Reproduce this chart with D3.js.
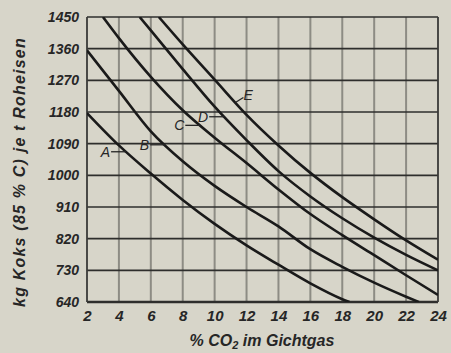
<!DOCTYPE html>
<html><head><meta charset="utf-8">
<script src="https://cdn.jsdelivr.net/npm/d3@7/dist/d3.min.js"></script>
<style>
html,body{margin:0;padding:0;background:#d7d5c9;}
svg{display:block;}
text{font-family:"Liberation Sans",Arial,sans-serif;font-weight:bold;font-style:italic;fill:#262626;}
</style></head>
<body><svg id="c" width="451" height="353"></svg>
<script>
// ---- data ----
const xTicks = [2,4,6,8,10,12,14,16,18,20,22,24];
const yTicks = [640,730,820,910,1000,1090,1180,1270,1360,1450];
const curveA_x = [2,4,6,8,10,12,14,16,18,18.45];
const curveA_y = [1177,1085,1005,930,862,801,746,693,648,640];
const curveB_x = [2,4,6,8,10,12,14,16,18,20,22,22.8];
const curveB_y = [1355,1240,1125,1040,970,910,855,790,740,695,655,640];
const curveC_x = [3,4,6,8,10,12,14,16,18,20,22,24];
const curveC_y = [1450,1390,1280,1185,1107,1035,960,890,830,773,716,660];
const curveD_x = [5.3,6,8,10,12,14,16,18,20,22,24];
const curveD_y = [1450,1412,1302,1195,1100,1012,940,878,823,774,730];
const curveE_x = [6.5,8,10,12,14,16,18,20,22,24];
const curveE_y = [1450,1372,1272,1172,1085,1007,938,875,815,760];
const curveNames = ["A","B","C","D","E"];
const labelAnchorX = [4.45,6.9,9.1,10.6,11.3]; // x value where each label's dash meets its curve
const xTitle = "% CO";
const yTitle = "kg Koks (85 % C) je t Roheisen";

const series = [
  {name:"A", xs:curveA_x, ys:curveA_y},
  {name:"B", xs:curveB_x, ys:curveB_y},
  {name:"C", xs:curveC_x, ys:curveC_y},
  {name:"D", xs:curveD_x, ys:curveD_y},
  {name:"E", xs:curveE_x, ys:curveE_y}
];

const L=87,R=438,T=17,B=302;
const svg=d3.select("#c");
const x=d3.scaleLinear().domain([2,24]).range([L,R]);
const y=d3.scaleLinear().domain([640,1450]).range([B,T]);

// vertical grid
svg.append("g").selectAll("line").data(xTicks.filter(d=>d>2&&d<24)).join("line")
  .attr("x1",d=>x(d)).attr("x2",d=>x(d)).attr("y1",T).attr("y2",B)
  .attr("stroke","#8d8c84").attr("stroke-width",2);
// horizontal grid
svg.append("g").selectAll("line").data(yTicks).join("line")
  .attr("x1",L).attr("x2",R).attr("y1",d=>y(d)).attr("y2",d=>y(d))
  .attr("stroke","#2e2e2c").attr("stroke-width",d=>d===640?2.5:1.6);
// left/right borders
svg.append("line").attr("x1",L).attr("x2",L).attr("y1",T).attr("y2",B).attr("stroke","#3a3a38").attr("stroke-width",1.8);
svg.append("line").attr("x1",R).attr("x2",R).attr("y1",T).attr("y2",B).attr("stroke","#3a3a38").attr("stroke-width",1.8);

// axes labels via d3 axes
const yAxis=d3.axisLeft(y).tickValues(yTicks).tickFormat(d3.format("d")).tickSize(0).tickPadding(8);
const gy=svg.append("g").attr("transform",`translate(${L},0)`).call(yAxis);
gy.select(".domain").remove();
gy.selectAll("text").style("font-size","14px").style("font-family",null).attr("fill","#262626");
const xAxis=d3.axisBottom(x).tickValues(xTicks).tickFormat(d3.format("d")).tickSize(0).tickPadding(8);
const gx=svg.append("g").attr("transform",`translate(0,${B})`).call(xAxis);
gx.select(".domain").remove();
gx.selectAll("text").style("font-size","15px").style("font-family",null).attr("fill","#262626");

// curves
svg.append("clipPath").attr("id","clip").append("rect").attr("x",L).attr("y",T).attr("width",R-L).attr("height",B-T);
const line=d3.line().x(d=>x(d[0])).y(d=>y(d[1])).curve(d3.curveMonotoneX);
const cg=svg.append("g").attr("clip-path","url(#clip)");
series.forEach(s=>{
  const pts=s.xs.map((v,i)=>[v,s.ys[i]]);
  cg.append("path").attr("d",line(pts)).attr("fill","none").attr("stroke","#1a1a1a").attr("stroke-width",2.6);
});

// labels
function valAt(s,xv){
  for(let i=0;i<s.xs.length-1;i++){
    if(xv>=s.xs[i]&&xv<=s.xs[i+1]){const t=(xv-s.xs[i])/(s.xs[i+1]-s.xs[i]);return s.ys[i]+t*(s.ys[i+1]-s.ys[i]);}
  }
  return s.ys[0];
}
series.forEach((s,i)=>{
  const ax=x(labelAnchorX[i]), ay=y(valAt(s,labelAnchorX[i]));
  if(s.name==="E"){
    svg.append("line").attr("x1",ax).attr("y1",ay).attr("x2",ax+8).attr("y2",ay-5).attr("stroke","#262626").attr("stroke-width",1.3);
    svg.append("text").attr("x",ax+8).attr("y",ay-3).style("font-size","14px").style("font-weight","normal").text(s.name);
  } else {
    svg.append("line").attr("x1",ax-15).attr("y1",ay).attr("x2",ax).attr("y2",ay).attr("stroke","#262626").attr("stroke-width",1.3);
    svg.append("text").attr("x",ax-16).attr("y",ay+5).attr("text-anchor","end").style("font-size","14px").style("font-weight","normal").text(s.name);
  }
});

// axis titles
const xt=svg.append("text").attr("x",262).attr("y",346).attr("text-anchor","middle").style("font-size","16px");
xt.append("tspan").text(xTitle);
xt.append("tspan").attr("dy",3).style("font-size","11px").text("2");
xt.append("tspan").attr("dy",-3).text(" im Gichtgas");
svg.append("text").attr("transform","translate(25,172) rotate(-90)").attr("text-anchor","middle")
  .style("font-size","16px").style("letter-spacing","1.2px").text(yTitle);
</script></body></html>
